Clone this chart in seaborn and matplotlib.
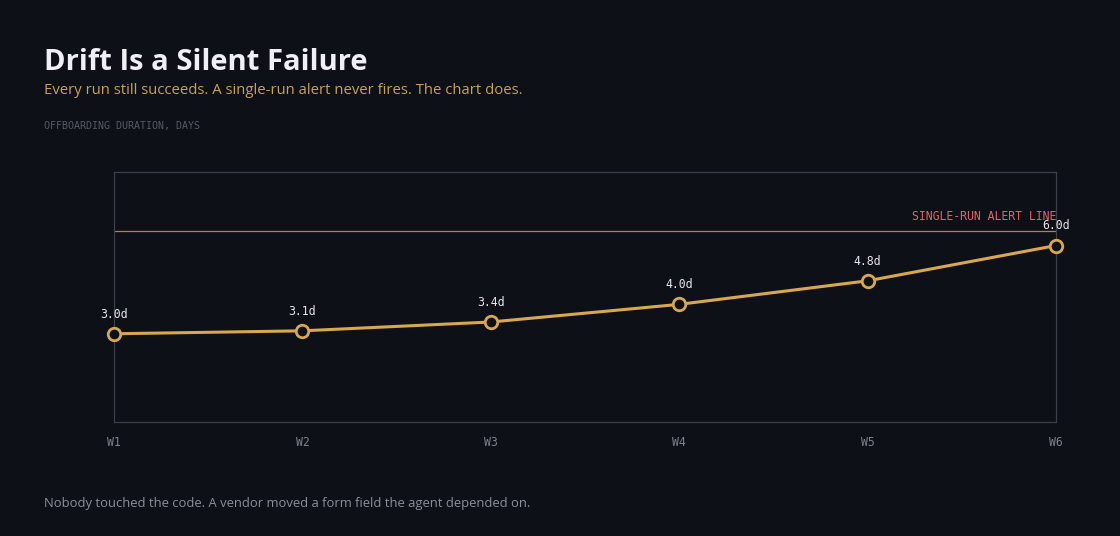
import pandas as pd
import numpy as np
import seaborn as sns
import matplotlib.pyplot as plt

# data
weeks = ['W1', 'W2', 'W3', 'W4', 'W5', 'W6']
days = [3.0, 3.1, 3.4, 4.0, 4.8, 6.0]
alert_level = 6.5

df = pd.DataFrame({'week': weeks, 'days': days})
df['pos'] = np.arange(len(weeks))

bg = '#0d1017'
gold = '#d9a84e'
red = '#e06666'

sns.set_theme(style='dark')
plt.rcParams['font.family'] = ['Open Sans', 'DejaVu Sans']

fig = plt.figure(figsize=(11.2, 5.36), dpi=100, facecolor=bg)
ax = fig.add_axes([114/1120, 1 - 422/536, (1056-114)/1120, (422-172)/536])
ax.set_facecolor(bg)

sns.lineplot(data=df, x='pos', y='days', ax=ax, color=gold, linewidth=2.2,
             marker='o', markersize=9, markerfacecolor=bg,
             markeredgecolor=gold, markeredgewidth=2, zorder=3, clip_on=False)

# alert line
ax.axhline(alert_level, color=red, linewidth=0.9, zorder=2)
ax.text(len(weeks) - 1, alert_level + 0.28, 'SINGLE-RUN ALERT LINE', ha='right', va='bottom',
        color=red, fontsize=8.3, family='DejaVu Sans Mono')

# value labels
for i, v in zip(df['pos'], df['days']):
    ax.annotate(f'{v:.1f}d', (i, v), xytext=(0, 9.5), textcoords='offset points',
                ha='center', va='bottom', color='#e6e8ec', fontsize=8.3,
                family='DejaVu Sans Mono')

ax.set_xlim(0, len(weeks) - 1)
ax.set_ylim(0, 8.5)
ax.set_xticks(df['pos'])
ax.set_xticklabels(weeks, family='DejaVu Sans Mono', color='#7d828b', fontsize=8.3)
ax.tick_params(axis='x', length=0, pad=10)
ax.set_yticks([])
ax.set_xlabel('')
ax.set_ylabel('')
ax.grid(False)
for s in ax.spines.values():
    s.set_color('#3a3f48')
    s.set_linewidth(0.9)

fig.text(44/1120, 1 - 62/536, 'Drift Is a Silent Failure', color='#eef0f5',
         fontsize=21, fontweight='bold', va='center')
fig.text(44/1120, 1 - 91/536, 'Every run still succeeds. A single-run alert never fires. The chart does.',
         color='#c9a25a', fontsize=10.7, va='center')
fig.text(44/1120, 1 - 126/536, 'OFFBOARDING DURATION, DAYS', color='#555a63',
         fontsize=7.2, family='DejaVu Sans Mono', va='center')
fig.text(44/1120, 1 - 503/536, 'Nobody touched the code. A vendor moved a form field the agent depended on.',
         color='#8b9099', fontsize=9.4, va='center')

plt.savefig('out.png', dpi=100, facecolor=bg)
